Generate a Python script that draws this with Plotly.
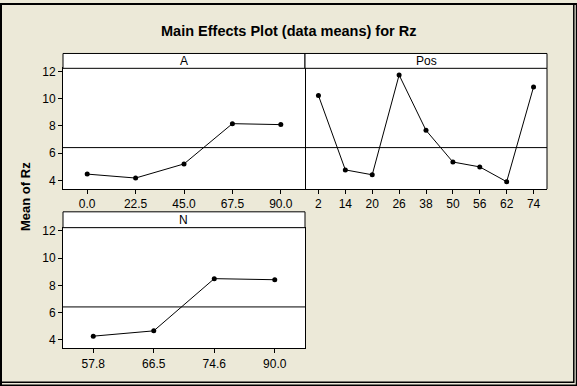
import plotly.graph_objects as go

W, H = 577, 386

# ---- data ----
a_levels = ["0.0", "22.5", "45.0", "67.5", "90.0"]
a_means = [4.46, 4.17, 5.21, 8.17, 8.10]

pos_levels = ["2", "14", "20", "26", "38", "50", "56", "62", "74"]
pos_means = [10.24, 4.77, 4.41, 11.75, 7.68, 5.35, 4.99, 3.90, 10.87]

n_levels = ["57.8", "66.5", "74.6", "90.0"]
n_means = [4.26, 4.65, 8.49, 8.41]

grand_mean = 6.41
y_ticks = [4, 6, 8, 10, 12]
y_range = [3.36, 12.24]

title_text = "Main Effects Plot (data means) for Rz"
y_title = "Mean of Rz"
panel_names = ["A", "Pos", "N"]

FONT = "Liberation Sans, Arial, sans-serif"
BG = "#ECE9D8"


def px(x):
    return x / W


def py(y):
    return 1 - y / H


fig = go.Figure()

panels = [
    # (levels, means, xaxis, yaxis, x0, x1, header_top, data_top, data_bottom, show_y)
    (a_levels, a_means, "x", "y", 63, 305, 50, 65, 187, True),
    (pos_levels, pos_means, "x2", "y2", 305, 547, 50, 65, 187, False),
    (n_levels, n_means, "x3", "y3", 63, 305, 210, 226, 348, True),
]

shapes = []
annotations = []

for i, (lev, means, xa, ya, x0, x1, ht, dt, db, show_y) in enumerate(panels):
    fig.add_trace(go.Scatter(
        x=lev, y=means, xaxis=xa, yaxis=ya, mode="lines+markers",
        line=dict(color="black", width=1),
        marker=dict(color="black", size=5, symbol="circle"),
        showlegend=False, hoverinfo="x+y",
    ))
    suffix = "" if i == 0 else str(i + 1)
    fig.layout["xaxis" + suffix] = dict(
        domain=[px(x0), px(x1)], anchor=ya, type="category",
        range=[-0.5, len(lev) - 0.5],
        showline=True, mirror=True, linecolor="black", linewidth=1,
        ticks="outside", ticklen=4, tickcolor="black", tickwidth=1,
        showgrid=False, zeroline=False,
        tickfont=dict(family=FONT, size=12, color="black"),
        fixedrange=True,
    )
    fig.layout["yaxis" + suffix] = dict(
        domain=[py(db), py(dt)], anchor=xa,
        range=y_range, tickvals=y_ticks,
        showline=show_y, mirror=True, linecolor="black", linewidth=1,
        ticks="outside" if show_y else "", ticklen=4, tickcolor="black",
        showticklabels=show_y,
        showgrid=False, zeroline=False,
        tickfont=dict(family=FONT, size=12, color="black"),
        fixedrange=True,
    )
    if not show_y:
        # right border only (left border is shared with the neighbouring panel)
        shapes.append(dict(
            type="line", xref=xa + " domain", yref=ya + " domain",
            x0=1, x1=1, y0=0, y1=1, line=dict(color="black", width=1),
        ))
    # reference line at the grand mean
    shapes.append(dict(
        type="line", xref=xa + " domain", yref=ya, x0=0, x1=1,
        y0=grand_mean, y1=grand_mean, line=dict(color="black", width=1),
        layer="below",
    ))
    # header strip
    shapes.append(dict(
        type="rect", xref="paper", yref="paper",
        x0=px(x0), x1=px(x1), y0=py(dt), y1=py(ht),
        fillcolor="white", line=dict(color="black", width=1),
    ))
    annotations.append(dict(
        text=panel_names[i], xref="paper", yref="paper",
        x=px((x0 + x1) / 2), y=py((ht + dt) / 2),
        xanchor="center", yanchor="middle", showarrow=False,
        font=dict(family=FONT, size=12, color="black"),
    ))

# title and y title
annotations.append(dict(
    text="<b>%s</b>" % title_text, xref="paper", yref="paper",
    x=px(288), y=py(27), xanchor="center", yanchor="middle",
    showarrow=False, font=dict(family=FONT, size=14.5, color="black"),
))
annotations.append(dict(
    text="<b>%s</b>" % y_title, xref="paper", yref="paper",
    x=px(26), y=py(195), xanchor="center", yanchor="middle",
    textangle=-90, showarrow=False,
    font=dict(family=FONT, size=13, color="black"),
))

# window frame
frame = [
    (0, 0, W, 0, 2),      # top
    (0, 0, 0, H, 4),      # left
    (576.5, 0, 576.5, H, 1.5),
    (573.8, 0, 573.8, 383, 1.5),
    (0, 385.3, W, 385.3, 1.5),
    (0, 382.2, 574, 382.2, 1.5),
]
for (xa0, ya0, xa1, ya1, w) in frame:
    shapes.append(dict(
        type="line", xref="paper", yref="paper",
        x0=px(xa0), y0=py(ya0), x1=px(xa1), y1=py(ya1),
        line=dict(color="black", width=w),
    ))

fig.update_layout(
    width=W, height=H,
    margin=dict(l=0, r=0, t=0, b=0),
    paper_bgcolor=BG, plot_bgcolor="white",
    shapes=shapes, annotations=annotations,
    font=dict(family=FONT, color="black"),
    showlegend=False,
)

fig.write_html(
    "out.html",
    config={"displayModeBar": False},
    post_script="document.body.style.margin='0';document.body.style.padding='0';",
)
